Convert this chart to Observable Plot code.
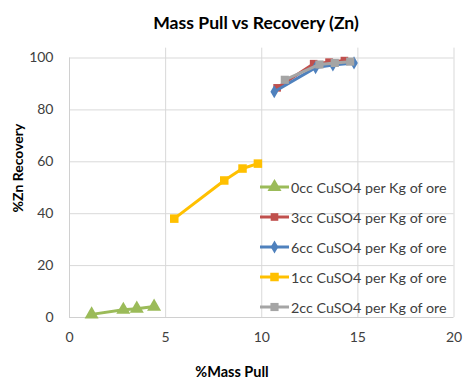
<!DOCTYPE html>
<html><head><meta charset="utf-8">
<script src="https://cdn.jsdelivr.net/npm/d3@7"></script>
<script src="https://cdn.jsdelivr.net/npm/@observablehq/plot@0.6"></script>
<style>
body{margin:0;background:#fff;}
#wrap{position:relative;width:466px;height:389px;font-family:Lato,"Open Sans",sans-serif;color:#404040;}
#wrap svg.plot{position:absolute;left:0;top:0;}
.t{position:absolute;white-space:nowrap;}
</style></head>
<body><div id="wrap"></div>
<script>
const seriesNames = ["0cc CuSO4 per Kg of ore","3cc CuSO4 per Kg of ore","6cc CuSO4 per Kg of ore","1cc CuSO4 per Kg of ore","2cc CuSO4 per Kg of ore"];
const mass0 = [1.15, 2.8, 3.5, 4.4];   const rec0 = [1.2, 3.0, 3.4, 4.2];
const mass3 = [10.8, 12.7, 13.5, 14.3]; const rec3 = [88.5, 97.8, 98.4, 99.0];
const mass6 = [10.65, 12.8, 13.7, 14.8]; const rec6 = [87.0, 96.3, 97.3, 98.1];
const mass1 = [5.45, 8.05, 9.0, 9.8];   const rec1 = [38.1, 52.8, 57.4, 59.3];
const mass2 = [11.2, 13.0, 13.8, 14.6]; const rec2 = [91.6, 97.5, 98.1, 98.6];
const xTicks = [0, 5, 10, 15, 20];
const yTicks = [0, 20, 40, 60, 80, 100];

const colors = ["#9bbb59","#c0504d","#4f81bd","#ffc000","#a5a5a5"];
const symbols = ["triangle","square","diamond","square","square"];
const radii = [5.2, 4.3, 4.0, 4.8, 4.6];
const masses = [mass0, mass3, mass6, mass1, mass2];
const recs = [rec0, rec3, rec6, rec1, rec2];

const marks = [
  Plot.gridY(yTicks.filter(d=>d>0), {stroke:"#d9d9d9", strokeOpacity:1}),
  Plot.ruleX(xTicks.filter(d=>d>0), {y1:0, y2:103.8, stroke:"#d9d9d9"}),
  Plot.ruleY([0], {stroke:"#d0d0d0"}),
  Plot.ruleX([0], {y1:0, y2:100, stroke:"#d0d0d0"}),
  Plot.axisX({ticks:xTicks, tickSize:0, tickPadding:15, fontSize:14, label:null, tickFormat:d=>String(d)}),
  Plot.axisY({ticks:yTicks, tickSize:0, tickPadding:16, fontSize:14, label:null, tickFormat:d=>String(d)})
];
masses.forEach((m,i)=>{
  const data = m.map((x,j)=>({x, y:recs[i][j]}));
  marks.push(Plot.line(data, {x:"x", y:"y", stroke:colors[i], strokeWidth:3}));
  marks.push(Plot.dot(data, {x:"x", y:"y", symbol:()=>symbols[i], fill:colors[i], stroke:"none", r:radii[i]}));
});

const chart = Plot.plot({
  width:466, height:389,
  marginLeft:69, marginRight:12.5, marginTop:57.5, marginBottom:72,
  x:{domain:[0,20]}, y:{domain:[0,100]},
  symbol:{type:"identity"},
  style:{fontFamily:"Lato, 'Open Sans', sans-serif", color:"#404040", background:"white"},
  marks
});
chart.classList.add("plot");
const wrap = document.getElementById("wrap");
wrap.appendChild(chart);

function addText(txt, css){
  const d = document.createElement("div"); d.className="t"; d.textContent=txt;
  Object.assign(d.style, css); wrap.appendChild(d); return d;
}
addText("Mass Pull vs Recovery (Zn)", {left:"0", width:"512px", textAlign:"center", top:"12px", fontSize:"17.6px", fontWeight:"bold", color:"#000"});
addText("%Mass Pull", {left:"0", width:"464px", textAlign:"center", top:"363px", fontSize:"14.5px", fontWeight:"bold", color:"#000"});
addText("%Zn Recovery", {left:"17px", top:"168px", fontSize:"14px", fontWeight:"bold", color:"#000", transform:"translate(-50%,-50%) rotate(-90deg)"});

// legend
seriesNames.forEach((name,i)=>{
  const row = document.createElement("div"); row.className="t";
  Object.assign(row.style,{left:"259px", top:(178 + i*30)+"px", height:"18px", display:"flex", alignItems:"center", fontSize:"14.3px", color:"#404040"});
  const s = d3.create("svg").attr("width",31).attr("height",18);
  s.append("line").attr("x1",1).attr("x2",30).attr("y1",9).attr("y2",9).attr("stroke",colors[i]).attr("stroke-width",3);
  const sym = {triangle:d3.symbolTriangle, square:d3.symbolSquare, diamond:d3.symbolDiamond}[symbols[i]];
  s.append("path").attr("d", d3.symbol(sym, Math.PI*radii[i]*radii[i])()).attr("transform","translate(15.5,9)").attr("fill",colors[i]);
  row.appendChild(s.node());
  const sp = document.createElement("span"); sp.textContent=name; sp.style.marginLeft="1px";
  row.appendChild(sp);
  wrap.appendChild(row);
});
</script></body></html>
